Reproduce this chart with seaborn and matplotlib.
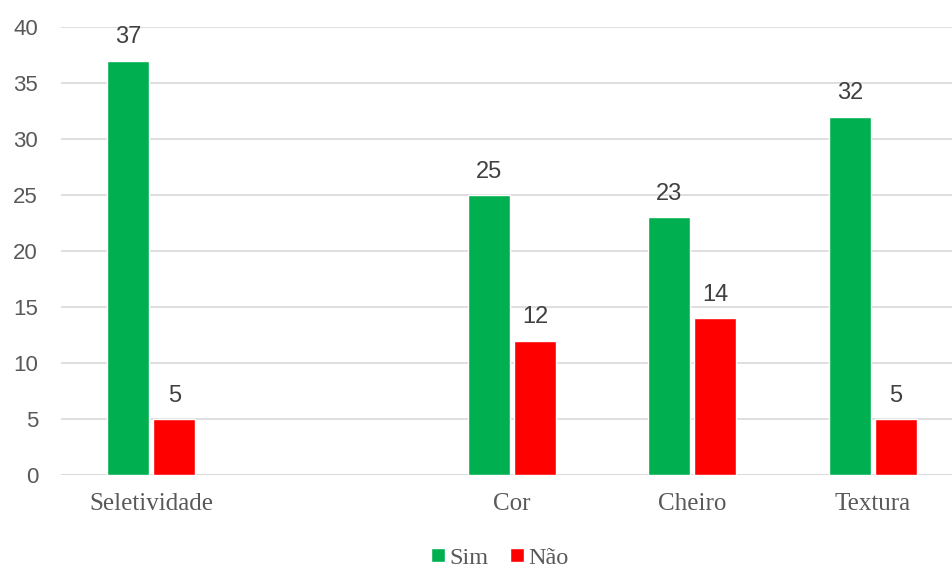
import matplotlib
matplotlib.use("Agg")
import matplotlib.pyplot as plt
import seaborn as sns
import pandas as pd

categories = ["Seletividade", " ", "Cor", "Cheiro", "Textura"]
data_categories = ["Seletividade", "Cor", "Cheiro", "Textura"]
sim_values = [37, 25, 23, 32]
nao_values = [5, 12, 14, 5]
series_names = ["Sim", "Não"]
colors = {"Sim": "#00B050", "Não": "#FF0000"}
y_ticks = [0, 5, 10, 15, 20, 25, 30, 35, 40]

df = pd.DataFrame({
    "categoria": data_categories * 2,
    "resposta": [series_names[0]] * len(data_categories) + [series_names[1]] * len(data_categories),
    "valor": sim_values + nao_values,
})

sns.set_theme(style="white")
plt.rcParams["font.family"] = ["Liberation Sans", "DejaVu Sans"]

fig = plt.figure(figsize=(9.53, 5.68), dpi=100)
ax = fig.add_axes([61 / 953, 93 / 568, 902 / 953, 448 / 568])

sns.barplot(data=df, x="categoria", y="valor", hue="resposta", order=categories,
            hue_order=series_names, palette=colors, width=0.51, gap=0.09,
            saturation=1, ax=ax, legend=True)

ax.set_ylim(0, 40)
ax.set_xlim(-0.5, len(categories) - 0.5)
ax.set_yticks(y_ticks)
ax.yaxis.grid(True, color="#D9D9D9", linewidth=1.2)
ax.set_axisbelow(True)
for s in ax.spines.values():
    s.set_visible(False)
ax.axhline(0, color="#D9D9D9", linewidth=1.2, zorder=0)

ax.set_xlabel("")
ax.set_ylabel("")
ax.tick_params(axis="y", length=0, pad=16.5, labelsize=16, labelcolor="#595959")
ax.tick_params(axis="x", length=0, pad=13, labelsize=18, labelcolor="#595959")
for lab in ax.get_xticklabels():
    lab.set_fontfamily("Liberation Serif")

for container in ax.containers:
    ax.bar_label(container, fmt="%d", padding=9, fontsize=17, color="#404040")

handles, labels = ax.get_legend_handles_labels()
ax.get_legend().remove()
leg = fig.legend(handles, labels, loc="center", bbox_to_anchor=(500 / 953, 1 - 558 / 568),
                 ncol=2, frameon=False, handlelength=0.55, handleheight=0.55,
                 handletextpad=0.2, columnspacing=0.9,
                 prop={"family": "Liberation Serif", "size": 17.5})
for t in leg.get_texts():
    t.set_color("#595959")

fig.savefig("out.png", dpi=100)
